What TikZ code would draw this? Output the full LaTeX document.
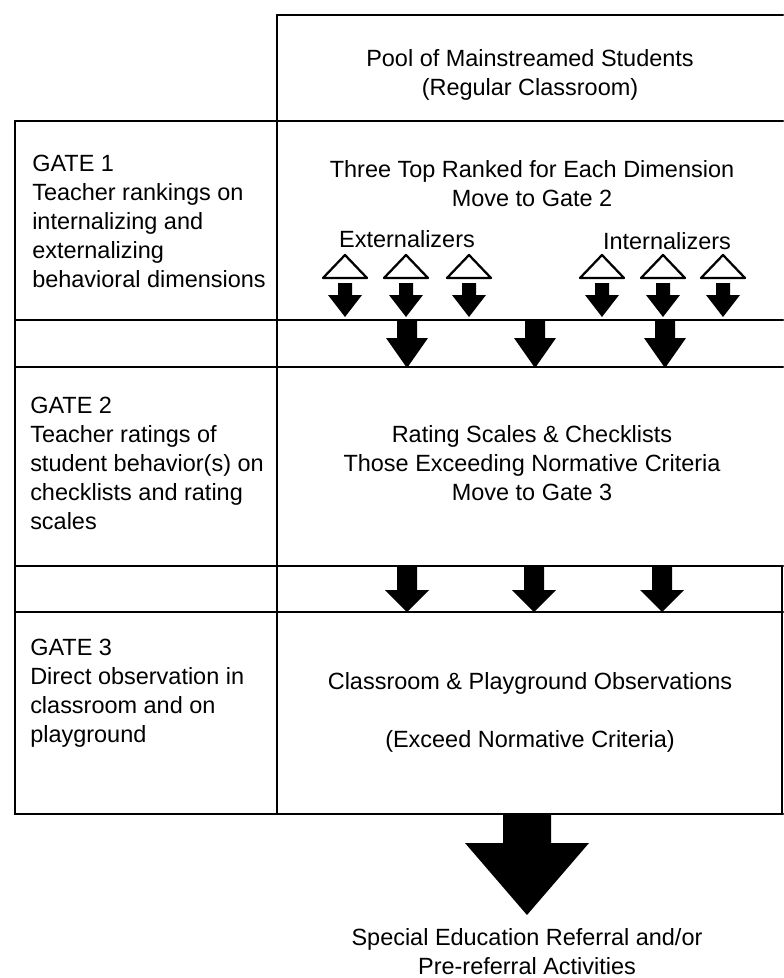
\documentclass[tikz,border=0pt]{standalone}
\usepackage{fontspec}
\setmainfont{Liberation Sans}
\usetikzlibrary{positioning}
\tikzset{rule/.style={line width=1.5pt,line cap=round},
  txt/.style={inner sep=0pt,font=\fontsize{17.6}{21.75}\selectfont},
  gatetxt/.style={txt,align=left,anchor=north west},
  celltxt/.style={txt,align=center,anchor=north},
  tri/.style={draw,line width=1.7pt,line join=round,fill=white}}
% block arrow: x, top, tip, half shaft, half head, head start
\newcommand{\blockarr}[6]{\fill (#1-#4,#2) -- (#1+#4,#2) -- (#1+#4,#6) -- (#1+#5,#6) -- (#1,#3) -- (#1-#5,#6) -- (#1-#4,#6) -- cycle;}

\begin{document}
\begin{tikzpicture}[x=0.75pt,y=-0.75pt]
\useasboundingbox (0,0) rectangle (783,978);
% grid
\draw[rule] (277,15) -- (783,15);
\draw[rule] (277,15) -- (277,814);
\draw[rule] (15,121) -- (15,814) -- (783,814);
\draw[rule] (782,566) -- (782,814);
\foreach \y in {121,320,367,566,612} \draw[rule] (15,\y) -- (783,\y);
% texts
\node[celltxt] (pool) at (530,49) {Pool of Mainstreamed Students\\(Regular Classroom)};
\node[gatetxt] (gate1) at (32,155) {GATE 1\\Teacher rankings on\\internalizing and\\externalizing\\behavioral dimensions};
\node[celltxt] (rank) at (532,160) {Three Top Ranked for Each Dimension\\Move to Gate 2};
\node[celltxt] (ext) at (407,230) {Externalizers};
\node[celltxt] (int) at (667,232) {Internalizers};
\node[gatetxt] (gate2) at (30,397) {GATE 2\\Teacher ratings of\\student behavior(s) on\\checklists and rating\\scales};
\node[celltxt] (rate) at (532,425) {Rating Scales \& Checklists\\Those Exceeding Normative Criteria\\Move to Gate 3};
\node[gatetxt] (gate3) at (30,639) {GATE 3\\Direct observation in\\classroom and on\\playground};
\node[celltxt] (obs) at (530,672) {Classroom \& Playground Observations\\[21.75pt](Exceed Normative Criteria)};
\node[celltxt] (referral) at (527,928) {Special Education Referral and/or\\Pre-referral Activities};
% arrows
\foreach \cx in {345,406,469,602,663,723}{
  \draw[tri] (\cx,255) -- (\cx+22,278) -- (\cx-22,278) -- cycle;
  \blockarr{\cx}{283}{317}{7}{17}{295}
}
\foreach \cx in {407,535,665}{\blockarr{\cx}{320}{368}{10}{21}{338}}
\foreach \cx in {407,534,662}{\blockarr{\cx}{566}{612}{10}{22}{590}}
\blockarr{527}{814}{915}{24}{62}{843}
\end{tikzpicture}
\end{document}
